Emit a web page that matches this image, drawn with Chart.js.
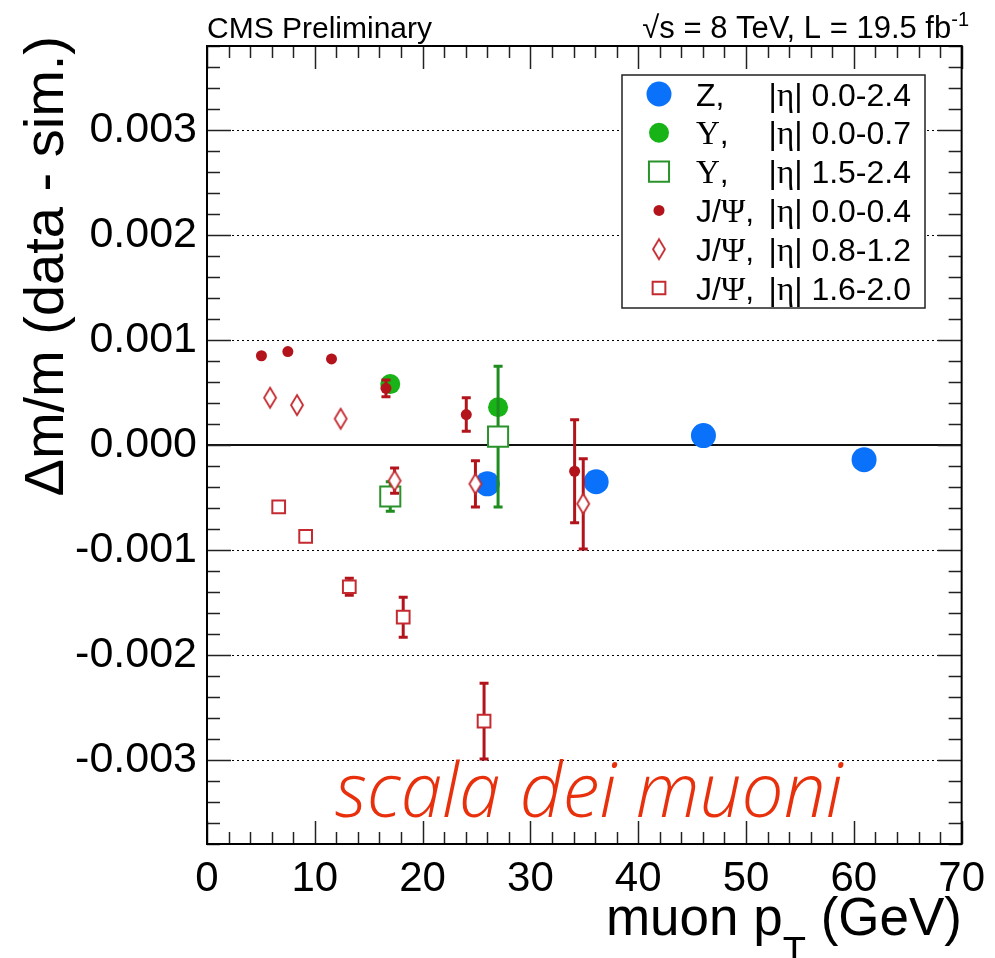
<!DOCTYPE html>
<html><head><meta charset="utf-8">
<script src="https://cdn.jsdelivr.net/npm/chart.js@4.4.1/dist/chart.umd.min.js"></script>
<style>html,body{margin:0;padding:0;background:#fff;}#wrap{width:995px;height:958px;position:relative;}</style>
</head><body><div id="wrap"><canvas id="c" width="995" height="958"></canvas></div>
<script>
// ---- data ----
const xTicks = [0, 10, 20, 30, 40, 50, 60, 70];
const yTicks = [-0.003, -0.002, -0.001, 0, 0.001, 0.002, 0.003];

const zPt  = [26.0, 36.1, 46.05, 60.95];
const zVal = [-0.00037, -0.00035, 0.00009, -0.00014];

const ups1Pt  = [17.0, 27.0];
const ups1Val = [0.00058, 0.00036];

const ups2Pt  = [17.0, 27.0];
const ups2Val = [-0.00049, 0.00008];
const ups2Err = [0.00014, 0.00067];

const jpsi1Pt  = [5.05, 7.5, 11.55, 16.6, 24.05, 34.1];
const jpsi1Val = [0.00085, 0.00089, 0.00082, 0.00054, 0.00029, -0.00025];
const jpsi1Err = [0, 0, 0, 0.00008, 0.00016, 0.00049];

const jpsi2Pt  = [5.85, 8.35, 12.4, 17.4, 24.9, 34.9];
const jpsi2Val = [0.00045, 0.00038, 0.00025, -0.00034, -0.00037, -0.00056];
const jpsi2Err = [0, 0, 0, 0.00012, 0.00022, 0.00043];

const jpsi3Pt  = [6.65, 9.15, 13.2, 18.2, 25.7];
const jpsi3Val = [-0.00059, -0.00087, -0.00135, -0.00164, -0.00263];
const jpsi3Err = [0, 0, 0.00008, 0.00019, 0.00036];

const seriesNames = ['Z,', 'Υ,', 'Υ,', 'J/Ψ,', 'J/Ψ,', 'J/Ψ,'];
const etaRanges   = ['0.0-2.4', '0.0-0.7', '1.5-2.4', '0.0-0.4', '0.8-1.2', '1.6-2.0'];

// ---- styles ----
const SANS = '"Liberation Sans", Arial, Helvetica, sans-serif';
const SERIF = '"Liberation Serif", "DejaVu Serif", serif';
const BLUE = '#0a72fa', GREEN = '#17b317', GREEN_D = '#2a922a', RED = '#b3141c', RED_O = '#c42a30';

function pts(xs, ys) { return xs.map((x, i) => ({x: x, y: ys[i]})); }

const diamond = document.createElement('canvas');
diamond.width = 16; diamond.height = 24;
(function(){
  const g = diamond.getContext('2d');
  g.beginPath(); g.moveTo(8, 2); g.lineTo(14, 12); g.lineTo(8, 22); g.lineTo(2, 12); g.closePath();
  g.fillStyle = '#fff'; g.fill(); g.lineWidth = 1.8; g.strokeStyle = RED_O; g.stroke();
})();

const datasets = [
  {label: 'Z', data: pts(zPt, zVal), pointStyle: 'circle', pointRadius: 12.5, backgroundColor: BLUE, borderColor: BLUE, borderWidth: 0, order: 6},
  {label: 'Y1', data: pts(ups1Pt, ups1Val), pointStyle: 'circle', pointRadius: 10, backgroundColor: GREEN, borderColor: GREEN, borderWidth: 0, order: 5},
  {label: 'Y2', data: pts(ups2Pt, ups2Val), errors: ups2Err, errColor: '#1f8c1f', pointStyle: 'rect', pointRadius: 14.2, backgroundColor: '#fff', borderColor: GREEN_D, borderWidth: 2, order: 4},
  {label: 'J1', data: pts(jpsi1Pt, jpsi1Val), errors: jpsi1Err, errColor: RED, pointStyle: 'circle', pointRadius: 5.5, backgroundColor: RED, borderColor: RED, borderWidth: 0, order: 3},
  {label: 'J2', data: pts(jpsi2Pt, jpsi2Val), errors: jpsi2Err, errColor: RED, pointStyle: diamond, pointRadius: 10, backgroundColor: '#fff', borderColor: RED_O, borderWidth: 0, order: 2},
  {label: 'J3', data: pts(jpsi3Pt, jpsi3Val), errors: jpsi3Err, errColor: RED, pointStyle: 'rect', pointRadius: 9, backgroundColor: '#fff', borderColor: RED_O, borderWidth: 2, order: 1}
];
datasets.forEach(d => { d.pointHoverRadius = d.pointRadius; d.showLine = false; });

function drawSegments(ctx, segs, x, y, align) {
  let total = 0;
  segs.forEach(s => { ctx.font = s.font; s.w = ctx.measureText(s.t).width; total += s.w; });
  let cx = align === 'right' ? x - total : x;
  ctx.textAlign = 'left';
  segs.forEach(s => { ctx.font = s.font; ctx.fillText(s.t, cx, y + (s.dy || 0)); cx += s.w; });
}

const deco = {
  id: 'deco',
  beforeDatasetsDraw(chart) {
    const {ctx, chartArea: a, scales: {y}} = chart;
    ctx.save();
    ctx.strokeStyle = '#000'; ctx.lineWidth = 1; ctx.setLineDash([2, 3]);
    yTicks.forEach(v => {
      if (v === 0) return;
      const py = Math.round(y.getPixelForValue(v)) + 0.5;
      ctx.beginPath(); ctx.moveTo(a.left, py); ctx.lineTo(a.right, py); ctx.stroke();
    });
    ctx.setLineDash([]); ctx.lineWidth = 2; ctx.strokeStyle = '#111';
    const p0 = y.getPixelForValue(0);
    ctx.beginPath(); ctx.moveTo(a.left, p0); ctx.lineTo(a.right, p0); ctx.stroke();
    ctx.restore();
  },
  beforeDatasetDraw(chart, args) {
    const ds = chart.data.datasets[args.index];
    if (!ds.errors) return;
    const {ctx, scales: {x, y}} = chart;
    ctx.save();
    ctx.strokeStyle = ds.errColor; ctx.lineWidth = 3;
    ds.data.forEach((p, i) => {
      const e = ds.errors[i];
      if (!e) return;
      const px = x.getPixelForValue(p.x);
      const y1 = y.getPixelForValue(p.y + e), y2 = y.getPixelForValue(p.y - e);
      ctx.beginPath(); ctx.moveTo(px, y1); ctx.lineTo(px, y2); ctx.stroke();
      ctx.beginPath(); ctx.moveTo(px - 4.5, y1); ctx.lineTo(px + 4.5, y1);
      ctx.moveTo(px - 4.5, y2); ctx.lineTo(px + 4.5, y2); ctx.stroke();
    });
    ctx.restore();
  },
  afterDraw(chart) {
    const {ctx, chartArea: a, scales: {x, y}} = chart;
    ctx.save();
    // ticks (inside, all four sides)
    ctx.strokeStyle = '#222'; ctx.lineWidth = 1.5;
    const tick = (x1, y1, x2, y2) => { ctx.beginPath(); ctx.moveTo(x1, y1); ctx.lineTo(x2, y2); ctx.stroke(); };
    for (let i = 0; i <= 35; i++) {
      const v = i * 2, px = Math.round(x.getPixelForValue(v)) + 0.5;
      const L = (v % 10 === 0) ? 23 : 12;
      tick(px, a.bottom, px, a.bottom - L);
      tick(px, a.top, px, a.top + L);
    }
    for (let i = -19; i <= 19; i++) {
      const v = i * 0.0002, py = Math.round(y.getPixelForValue(v)) + 0.5;
      const L = (i % 5 === 0) ? 24 : 13;
      tick(a.left, py, a.left + L, py);
      tick(a.right, py, a.right - L, py);
    }
    // frame
    ctx.strokeStyle = '#000'; ctx.lineWidth = 2;
    ctx.strokeRect(a.left, a.top, a.right - a.left, a.bottom - a.top);

    // legend
    const lx = 622, ly = 75, lw = 303, lh = 233;
    ctx.fillStyle = '#fff'; ctx.fillRect(lx, ly, lw, lh);
    ctx.strokeStyle = '#222'; ctx.lineWidth = 1.5; ctx.strokeRect(lx, ly, lw, lh);
    chart.data.datasets.forEach((ds, i) => {
      const ry = 94 + i * 38.8;
      ctx.fillStyle = ds.backgroundColor; ctx.strokeStyle = ds.borderColor;
      ctx.lineWidth = ds.borderWidth;
      Chart.helpers.drawPoint(ctx, {pointStyle: ds.pointStyle, radius: ds.pointRadius, borderWidth: ds.borderWidth, rotation: 0}, 659, ry);
      ctx.fillStyle = '#000'; ctx.textBaseline = 'alphabetic';
      const nm = seriesNames[i];
      const segs = [];
      for (const ch of nm) {
        const greek = /[\u0370-\u03FF]/.test(ch);
        segs.push({t: ch, font: (greek ? '33px ' + SERIF : '32px ' + SANS)});
      }
      drawSegments(ctx, segs, 696, ry + 11.5, 'left');
      drawSegments(ctx, [
        {t: '|', font: '32px ' + SANS}, {t: 'η', font: '33px ' + SERIF}, {t: '| ' + etaRanges[i], font: '32px ' + SANS}
      ], 911, ry + 11.5, 'right');
    });

    // header texts
    ctx.fillStyle = '#000'; ctx.textBaseline = 'alphabetic';
    ctx.font = '30px ' + SANS; ctx.textAlign = 'left';
    ctx.fillText('CMS Preliminary', 207, 38);
    drawSegments(ctx, [
      {t: '√s = 8 TeV, L = 19.5 fb', font: '31px ' + SANS},
      {t: '-1', font: '20px ' + SANS, dy: -12}
    ], 969, 38, 'right');

    // y title
    ctx.save();
    ctx.translate(63, 36); ctx.rotate(-Math.PI / 2);
    ctx.font = '56px ' + SANS; ctx.textAlign = 'right';
    ctx.fillText('Δm/m (data - sim.)', 0, 0);
    ctx.restore();

    // x title
    drawSegments(ctx, [
      {t: 'muon p', font: '53px ' + SANS},
      {t: 'T', font: '38px ' + SANS, dy: 29},
      {t: ' (GeV)', font: '53px ' + SANS}
    ], 962, 935, 'right');

    // annotation
    const ann = 'scala dei muoni';
    ctx.font = 'italic 300 100px "Open Sans", sans-serif';
    const w100 = ctx.measureText(ann).width;
    const fs = 100 * 508 / w100;
    ctx.font = 'italic 300 ' + fs.toFixed(1) + 'px "Open Sans", sans-serif';
    ctx.fillStyle = '#e8300c'; ctx.textAlign = 'left';
    ctx.fillText(ann, 335, 817);
    ctx.restore();
  }
};

new Chart(document.getElementById('c'), {
  type: 'scatter',
  data: {datasets: datasets},
  options: {
    responsive: false, animation: false, events: [],
    layout: {padding: {top: 46, right: 31, left: 0, bottom: 0}},
    plugins: {legend: {display: false}, tooltip: {enabled: false}},
    scales: {
      x: {
        type: 'linear', min: 0, max: 70,
        afterBuildTicks: s => { s.ticks = xTicks.map(v => ({value: v})); },
        afterFit: s => { s.height = 114; },
        grid: {display: false, drawTicks: false}, border: {display: false},
        ticks: {font: {family: SANS, size: 42}, color: '#000', padding: 10, maxRotation: 0, autoSkip: false, callback: v => String(v)}
      },
      y: {
        type: 'linear', min: -0.0038, max: 0.0038,
        afterBuildTicks: s => { s.ticks = yTicks.map(v => ({value: v})); },
        afterFit: s => { s.width = 207; },
        grid: {display: false, drawTicks: false}, border: {display: false},
        ticks: {font: {family: SANS, size: 43}, color: '#000', padding: 10, autoSkip: false, callback: v => v.toFixed(3)}
      }
    }
  },
  plugins: [deco]
});
</script>
</body></html>
